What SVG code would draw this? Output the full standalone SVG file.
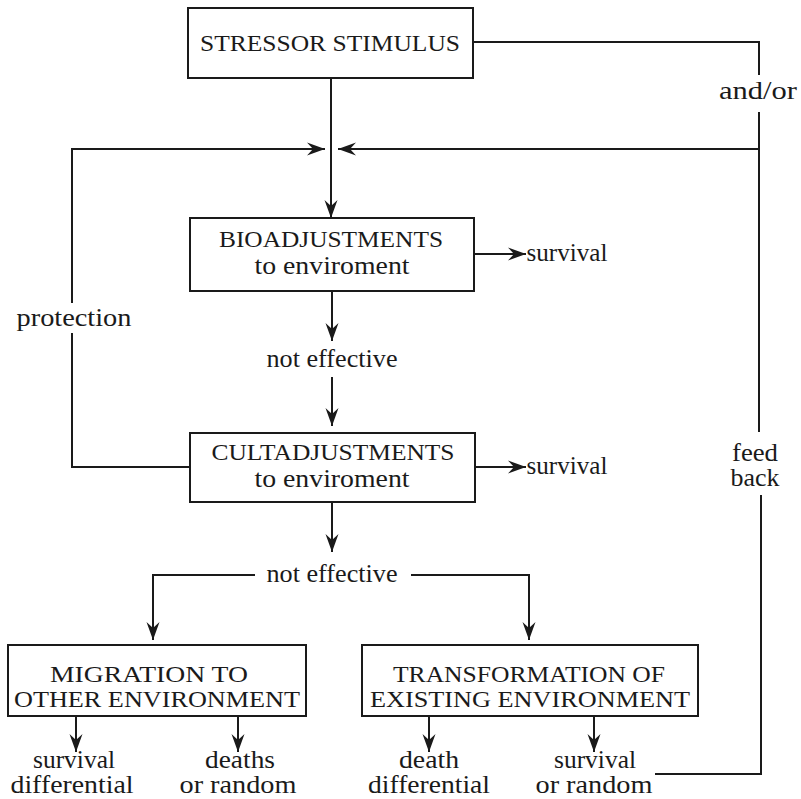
<svg xmlns="http://www.w3.org/2000/svg" width="801" height="799" viewBox="0 0 801 799">
  <defs>
    <marker id="arrow" viewBox="-18 -7 19 14" markerWidth="19" markerHeight="14" refX="0" refY="0" orient="auto" markerUnits="userSpaceOnUse">
      <path d="M0,0 L-18,-6.5 L-12,0 L-18,6.5 Z" fill="#1a1a1a"/>
    </marker>
  </defs>
  <style>
    .box { fill: #fff; stroke: #1a1a1a; stroke-width: 2; }
    .line { fill: none; stroke: #1a1a1a; stroke-width: 2; }
    .arr { fill: none; stroke: #1a1a1a; stroke-width: 2; marker-end: url(#arrow); }
  </style>
  <rect width="801" height="799" fill="#fff"/>

  <!-- connectors -->
  <g id="connectors">
    <!-- stimulus down into bioadjustments -->
    <line class="arr" x1="331" y1="78" x2="331" y2="218"/>
    <!-- and/or branch to the right, then back into the main flow -->
    <polyline class="line" points="473,42 759,42 759,75"/>
    <line class="line" x1="759" y1="112" x2="759" y2="432"/>
    <line class="arr" x1="759" y1="149" x2="338" y2="149"/>
    <!-- feed back from the last outcome -->
    <polyline class="line" points="655,774 761,774 761,495"/>
    <!-- protection loop from cultadjustments -->
    <polyline class="line" points="190,467 72,467 72,333"/>
    <line class="line" x1="72" y1="303" x2="72" y2="149"/>
    <line class="arr" x1="71" y1="149" x2="325" y2="149"/>
    <!-- survival exits -->
    <line class="arr" x1="474" y1="254" x2="526" y2="254"/>
    <line class="arr" x1="475" y1="467" x2="526" y2="467"/>
    <!-- not effective chain -->
    <line class="arr" x1="332" y1="291" x2="332" y2="341"/>
    <line class="arr" x1="332" y1="377" x2="332" y2="426"/>
    <line class="arr" x1="332" y1="502" x2="332" y2="552"/>
    <!-- split to the two alternatives -->
    <polyline class="arr" points="255,575 153,575 153,640"/>
    <polyline class="arr" points="411,575 529,575 529,640"/>
    <!-- outcomes of the alternatives -->
    <line class="arr" x1="76" y1="716" x2="76" y2="752"/>
    <line class="arr" x1="238" y1="716" x2="238" y2="752"/>
    <line class="arr" x1="429" y1="716" x2="429" y2="752"/>
    <line class="arr" x1="594" y1="716" x2="594" y2="752"/>
  </g>

  <g font-family="Liberation Serif, Times New Roman, serif" fill="#1a1a1a" text-anchor="middle">
    <g id="stressor" font-size="24">
      <rect class="box" x="188" y="8" width="285" height="70"/>
      <text x="330" y="51" textLength="260" lengthAdjust="spacingAndGlyphs">STRESSOR STIMULUS</text>
    </g>

    <g id="bioadjustments">
      <rect class="box" x="190" y="218" width="284" height="73"/>
      <text x="331" y="247" font-size="24" textLength="224" lengthAdjust="spacingAndGlyphs">BIOADJUSTMENTS</text>
      <text x="332" y="274" font-size="25" textLength="155" lengthAdjust="spacingAndGlyphs">to enviroment</text>
    </g>

    <g id="cultadjustments">
      <rect class="box" x="190" y="433" width="285" height="69"/>
      <text x="333" y="460" font-size="24" textLength="243" lengthAdjust="spacingAndGlyphs">CULTADJUSTMENTS</text>
      <text x="332" y="487" font-size="25" textLength="155" lengthAdjust="spacingAndGlyphs">to enviroment</text>
    </g>

    <g id="migration" font-size="24">
      <rect class="box" x="8" y="645" width="298" height="71"/>
      <text x="149" y="682" textLength="198" lengthAdjust="spacingAndGlyphs">MIGRATION TO</text>
      <text x="157" y="707" textLength="286" lengthAdjust="spacingAndGlyphs">OTHER ENVIRONMENT</text>
    </g>

    <g id="transformation" font-size="24">
      <rect class="box" x="362" y="645" width="336" height="71"/>
      <text x="529" y="682" textLength="272" lengthAdjust="spacingAndGlyphs">TRANSFORMATION OF</text>
      <text x="530" y="707" textLength="320" lengthAdjust="spacingAndGlyphs">EXISTING ENVIRONMENT</text>
    </g>

    <g id="labels" font-size="26">
      <text x="758" y="99" textLength="78" lengthAdjust="spacingAndGlyphs">and/or</text>
      <text x="567" y="261" textLength="81" lengthAdjust="spacingAndGlyphs">survival</text>
      <text x="567" y="474" textLength="81" lengthAdjust="spacingAndGlyphs">survival</text>
      <text x="74" y="326" textLength="115" lengthAdjust="spacingAndGlyphs">protection</text>
      <text x="332" y="367" textLength="131" lengthAdjust="spacingAndGlyphs">not effective</text>
      <text x="332" y="582" textLength="131" lengthAdjust="spacingAndGlyphs">not effective</text>
      <text x="755" y="461" font-size="25" textLength="46" lengthAdjust="spacingAndGlyphs">feed</text>
      <text x="755" y="486" font-size="25" textLength="49" lengthAdjust="spacingAndGlyphs">back</text>
    </g>

    <g id="outcomes" font-size="25">
      <text x="74" y="768" textLength="82" lengthAdjust="spacingAndGlyphs">survival</text>
      <text x="72" y="793" textLength="123" lengthAdjust="spacingAndGlyphs">differential</text>
      <text x="240" y="768" textLength="70" lengthAdjust="spacingAndGlyphs">deaths</text>
      <text x="238" y="793" textLength="117" lengthAdjust="spacingAndGlyphs">or random</text>
      <text x="429" y="768" textLength="60" lengthAdjust="spacingAndGlyphs">death</text>
      <text x="429" y="793" textLength="122" lengthAdjust="spacingAndGlyphs">differential</text>
      <text x="595" y="768" textLength="82" lengthAdjust="spacingAndGlyphs">survival</text>
      <text x="594" y="793" textLength="117" lengthAdjust="spacingAndGlyphs">or random</text>
    </g>
  </g>
</svg>
